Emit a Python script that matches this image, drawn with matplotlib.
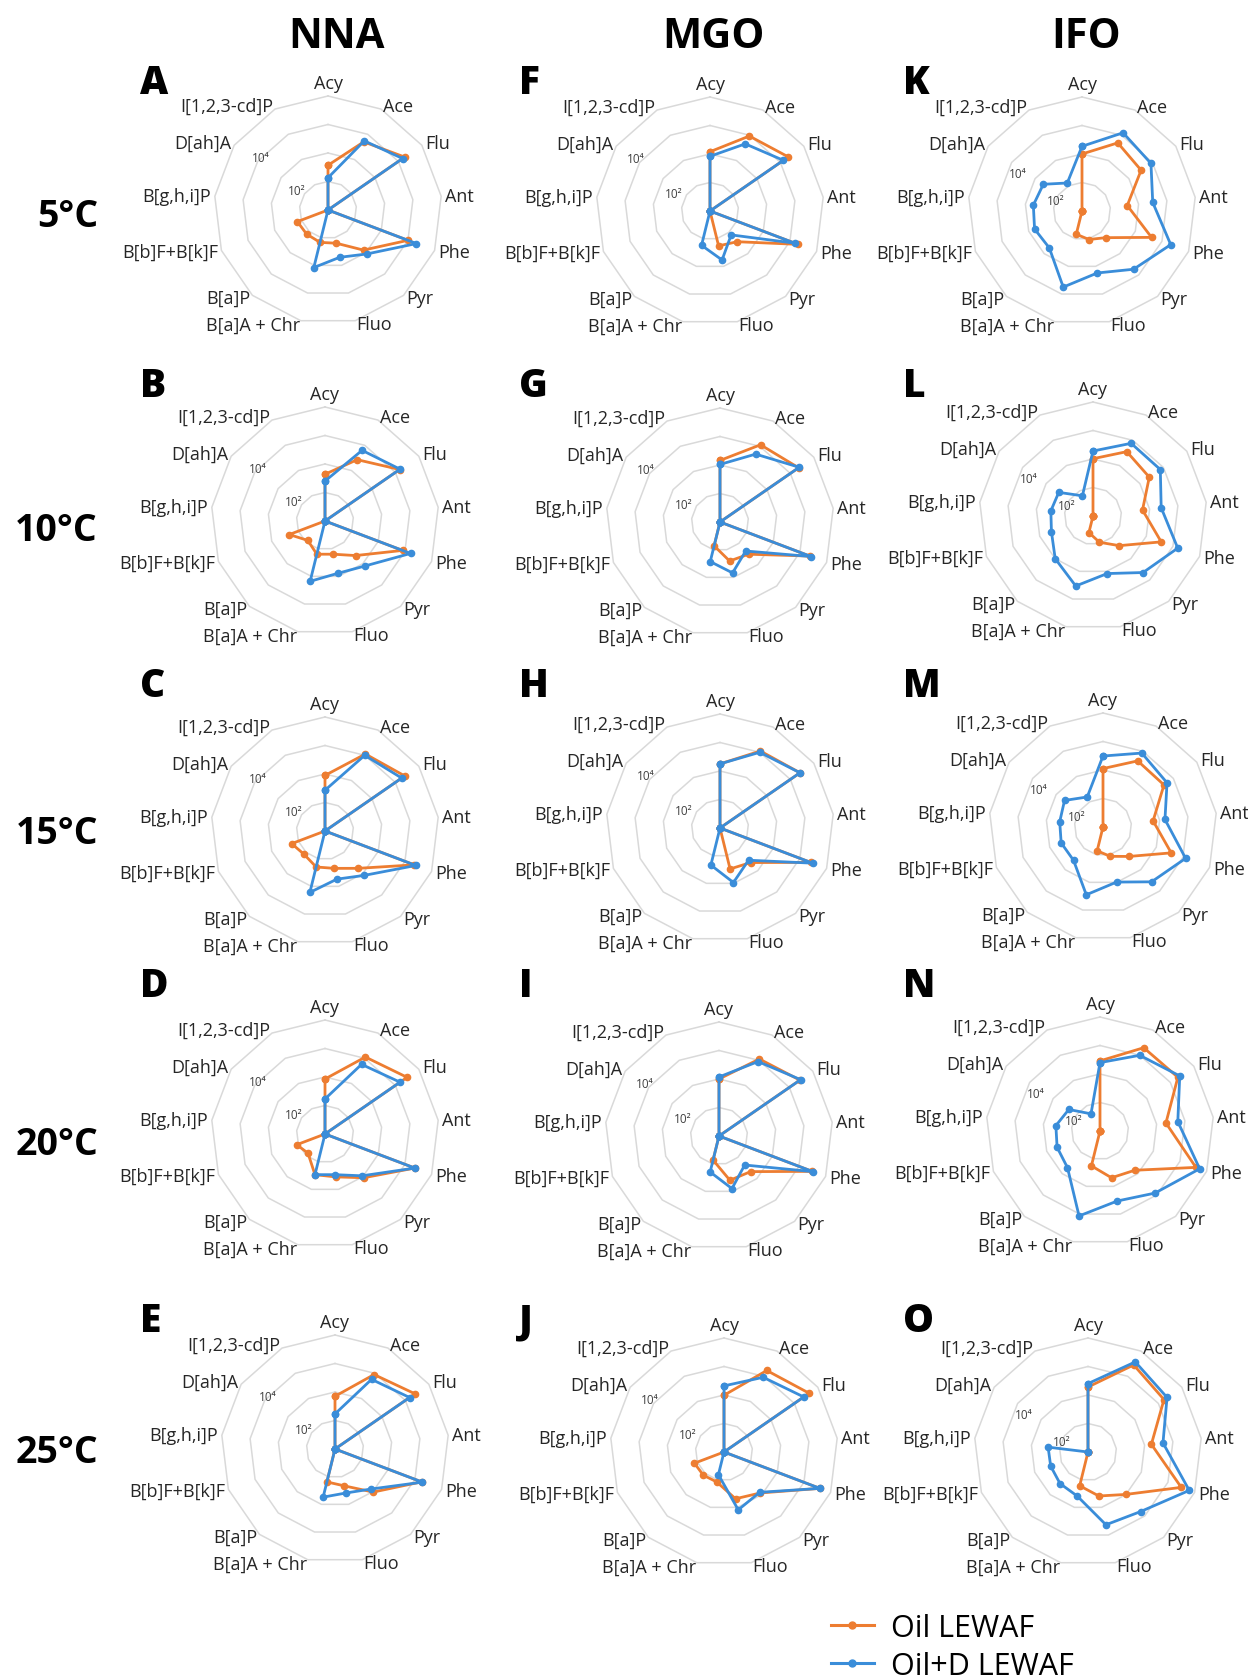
import numpy as np
import matplotlib
matplotlib.use("Agg")
import matplotlib.pyplot as plt
from matplotlib.lines import Line2D

plt.rcParams["font.family"] = ["Open Sans", "DejaVu Sans"]

# ---------------------------------------------------------------- data
compounds = ["Acy", "Ace", "Flu", "Ant", "Phe", "Pyr", "Fluo", "B[a]A + Chr",
             "B[a]P", "B[b]F+B[k]F", "B[g,h,i]P", "D[ah]A", "I[1,2,3-cd]P"]
oils = ["NNA", "MGO", "IFO"]
temperatures = ["5°C", "10°C", "15°C", "20°C", "25°C"]
panel_letters = [["A", "B", "C", "D", "E"],
                 ["F", "G", "H", "I", "J"],
                 ["K", "L", "M", "N", "O"]]
series_names = ["Oil LEWAF", "Oil+D LEWAF"]

# log10 concentration for each compound; 1.0 sits on the plot origin (not detected)
nna_oil = [
    [2.57, 3.70, 4.27, 1.00, 4.00, 2.88, 2.20, 2.17, 2.13, 2.15, 1.00, 1.00, 1.00],
    [2.64, 3.43, 4.18, 1.00, 3.91, 2.62, 2.20, 2.20, 1.91, 2.34, 1.00, 1.00, 1.00],
    [2.95, 4.05, 4.40, 1.00, 4.35, 2.75, 2.35, 2.30, 2.10, 2.25, 1.00, 1.00, 1.00],
    [2.93, 4.05, 4.50, 1.00, 4.37, 3.05, 2.55, 2.47, 1.90, 2.06, 1.00, 1.00, 1.00],
    [2.85, 3.95, 4.41, 1.00, 4.25, 3.02, 2.33, 2.19, 1.00, 1.00, 1.00, 1.00, 1.00],
]
nna_oil_d = [
    [2.13, 3.74, 4.18, 1.00, 4.32, 3.06, 2.71, 3.08, 1.00, 1.00, 1.00, 1.00, 1.00],
    [2.40, 3.80, 4.20, 1.00, 4.21, 3.11, 2.89, 3.18, 1.00, 1.00, 1.00, 1.00, 1.00],
    [2.43, 4.00, 4.27, 1.00, 4.41, 3.08, 2.74, 3.22, 1.00, 1.00, 1.00, 1.00, 1.00],
    [2.23, 3.76, 4.20, 1.00, 4.37, 2.96, 2.47, 2.47, 1.00, 1.00, 1.00, 1.00, 1.00],
    [2.23, 3.76, 4.18, 1.00, 4.28, 2.88, 2.59, 2.74, 1.00, 1.00, 1.00, 1.00, 1.00],
]
mgo_oil = [
    [3.08, 3.97, 4.34, 1.00, 4.30, 2.44, 2.26, 1.00, 1.00, 1.00, 1.00, 1.00, 1.00],
    [3.16, 4.06, 4.35, 1.00, 4.37, 2.51, 2.41, 1.86, 1.00, 1.00, 1.00, 1.00, 1.00],
    [3.25, 4.05, 4.41, 1.00, 4.40, 2.62, 2.48, 1.00, 1.00, 1.00, 1.00, 1.00, 1.00],
    [3.00, 4.05, 4.45, 1.00, 4.50, 2.67, 2.60, 1.87, 1.00, 1.00, 1.00, 1.00, 1.00],
    [2.99, 4.23, 4.63, 1.00, 4.60, 2.92, 2.69, 2.08, 2.09, 2.11, 1.00, 1.00, 1.00],
]
mgo_oil_d = [
    [2.92, 3.66, 4.13, 1.00, 4.19, 2.12, 2.77, 2.24, 1.00, 1.00, 1.00, 1.00, 1.00],
    [3.02, 3.69, 4.38, 1.00, 4.42, 2.36, 2.84, 2.43, 1.00, 1.00, 1.00, 1.00, 1.00],
    [3.25, 4.00, 4.41, 1.00, 4.48, 2.51, 2.97, 2.34, 1.00, 1.00, 1.00, 1.00, 1.00],
    [3.07, 3.95, 4.48, 1.00, 4.53, 2.36, 2.90, 2.30, 1.00, 1.00, 1.00, 1.00, 1.00],
    [3.32, 3.96, 4.40, 1.00, 4.60, 2.89, 3.09, 1.82, 1.00, 1.00, 1.00, 1.00, 1.00],
]
ifo_oil = [
    [3.00, 3.70, 3.52, 2.60, 3.61, 2.25, 2.03, 1.84, 1.00, 1.00, 1.00, 1.00, 1.00],
    [3.01, 3.55, 3.40, 2.75, 3.56, 2.39, 1.95, 1.60, 1.00, 1.00, 1.00, 1.00, 1.00],
    [3.05, 3.62, 3.60, 2.77, 3.56, 2.38, 2.06, 1.86, 1.00, 1.00, 1.00, 1.00, 1.00],
    [3.46, 4.30, 4.32, 3.33, 4.60, 2.84, 2.69, 2.26, 1.00, 1.00, 1.00, 1.00, 1.00],
    [3.28, 4.45, 4.24, 3.24, 4.50, 2.99, 2.59, 2.22, 1.00, 1.00, 1.00, 1.00, 1.00],
]
ifo_oil_d = [
    [3.27, 4.10, 3.94, 3.50, 4.33, 3.73, 3.24, 3.75, 2.73, 2.78, 2.72, 2.65, 2.11],
    [3.28, 3.88, 3.87, 3.41, 4.18, 3.65, 3.08, 3.53, 3.00, 2.56, 2.49, 2.46, 1.80],
    [3.49, 3.93, 3.73, 3.19, 4.10, 3.57, 2.99, 3.45, 2.56, 2.57, 2.53, 2.64, 2.19],
    [3.40, 4.00, 4.40, 3.75, 4.74, 3.91, 3.53, 4.07, 2.72, 2.61, 2.56, 2.33, 1.68],
    [3.40, 4.57, 4.37, 3.65, 4.80, 3.79, 3.63, 2.59, 2.48, 2.40, 2.41, 1.00, 1.00],
]
oil_series = [nna_oil, mgo_oil, ifo_oil]
oil_d_series = [nna_oil_d, mgo_oil_d, ifo_oil_d]

# radial gridlines (log10) and the two labelled decades
ring_levels = [2, 3, 4, 5]
r_min, r_max = 1, 5
tick_texts = ["10²", "10⁴"]

# ---------------------------------------------------------------- layout (pixels)
W, H = 1248, 1681
radius_px = 114
col_x = [[328, 325, 325, 325, 335],
         [710, 720, 720, 719, 724],
         [1082, 1093, 1103, 1100, 1088]]
row_y = [[211, 522, 832, 1135, 1450],
         [212, 523, 829, 1137, 1453],
         [212, 517, 828, 1132, 1453]]
letter_x = [140, 519, 903]
letter_base = [94, 397, 697, 997, 1332]
header_x = [336, 713, 1086]
row_label_base = [227, 541, 844, 1155, 1463]
# where the decade labels sit in each column: (angle in degrees, radius)
tick_pos = [[(302, 2.3), (308, 4.0)],
            [(296, 2.4), (305, 4.2)],
            [(292, 2.0), (300, 3.6)]]

ORANGE = "#ED7D31"
BLUE = "#3A8DD9"
GRID = "#D9D9D9"
LABEL = "#262626"

fig = plt.figure(figsize=(W / 100, H / 100), dpi=100)

n = len(compounds)
theta = np.arange(n) * 2 * np.pi / n
theta_closed = np.append(theta, theta[0])


def closed(values):
    return np.append(values, values[0])


for c in range(3):
    for r in range(5):
        cx, cy = col_x[c][r], row_y[c][r]
        ax = fig.add_axes([(cx - radius_px) / W, 1 - (cy + radius_px) / H,
                           2 * radius_px / W, 2 * radius_px / H],
                          projection="polar")
        ax.set_theta_zero_location("N")
        ax.set_theta_direction(-1)
        ax.set_ylim(r_min, r_max)
        ax.grid(False)
        ax.set_xticks([])
        ax.set_yticks([])
        ax.spines["polar"].set_visible(False)
        ax.patch.set_alpha(0)

        for lvl in ring_levels:
            ax.plot(theta_closed, [lvl] * (n + 1), color=GRID, lw=1.1,
                    zorder=1, clip_on=False)

        ax.plot(theta_closed, closed(oil_series[c][r]), color=ORANGE, lw=2.0,
                marker="o", ms=4.5, zorder=3, clip_on=False)
        ax.plot(theta_closed, closed(oil_d_series[c][r]), color=BLUE, lw=2.0,
                marker="o", ms=4.5, zorder=4, clip_on=False)

        for (ang, rad), txt in zip(tick_pos[c], tick_texts):
            ax.text(np.deg2rad(ang), rad, txt, fontsize=8.5, color="#404040",
                    ha="center", va="center", zorder=2)

        for th, name in zip(theta, compounds):
            s = np.sin(th)
            if abs(s) < 0.05:
                ax.text(th, 5.13, name, ha="center", va="bottom", fontsize=13,
                        color=LABEL)
            else:
                ax.text(th, 5.13, name, ha="left" if s > 0 else "right",
                        va="center", fontsize=13, color=LABEL)

        fig.text(letter_x[c] / W, 1 - letter_base[r] / H, panel_letters[c][r],
                 fontsize=28, fontweight="heavy", ha="left", va="baseline",
                 color="black")

for c, name in enumerate(oils):
    fig.text(header_x[c] / W, 1 - 48 / H, name, fontsize=30, fontweight="bold",
             ha="center", va="baseline")

for r, name in enumerate(temperatures):
    fig.text(98 / W, 1 - row_label_base[r] / H, name, fontsize=27,
             fontweight="bold", ha="right", va="baseline")

handles = [Line2D([], [], color=ORANGE, lw=2.2, marker="o", ms=5),
           Line2D([], [], color=BLUE, lw=2.2, marker="o", ms=5)]
fig.legend(handles, series_names, loc="upper left",
           bbox_to_anchor=(831 / W, 1 - 1614 / H), frameon=False, fontsize=22,
           handlelength=1.4, handletextpad=0.55, labelspacing=0.25,
           borderpad=0, borderaxespad=0, markerscale=1)

fig.savefig("out.png", dpi=100, facecolor="white")
